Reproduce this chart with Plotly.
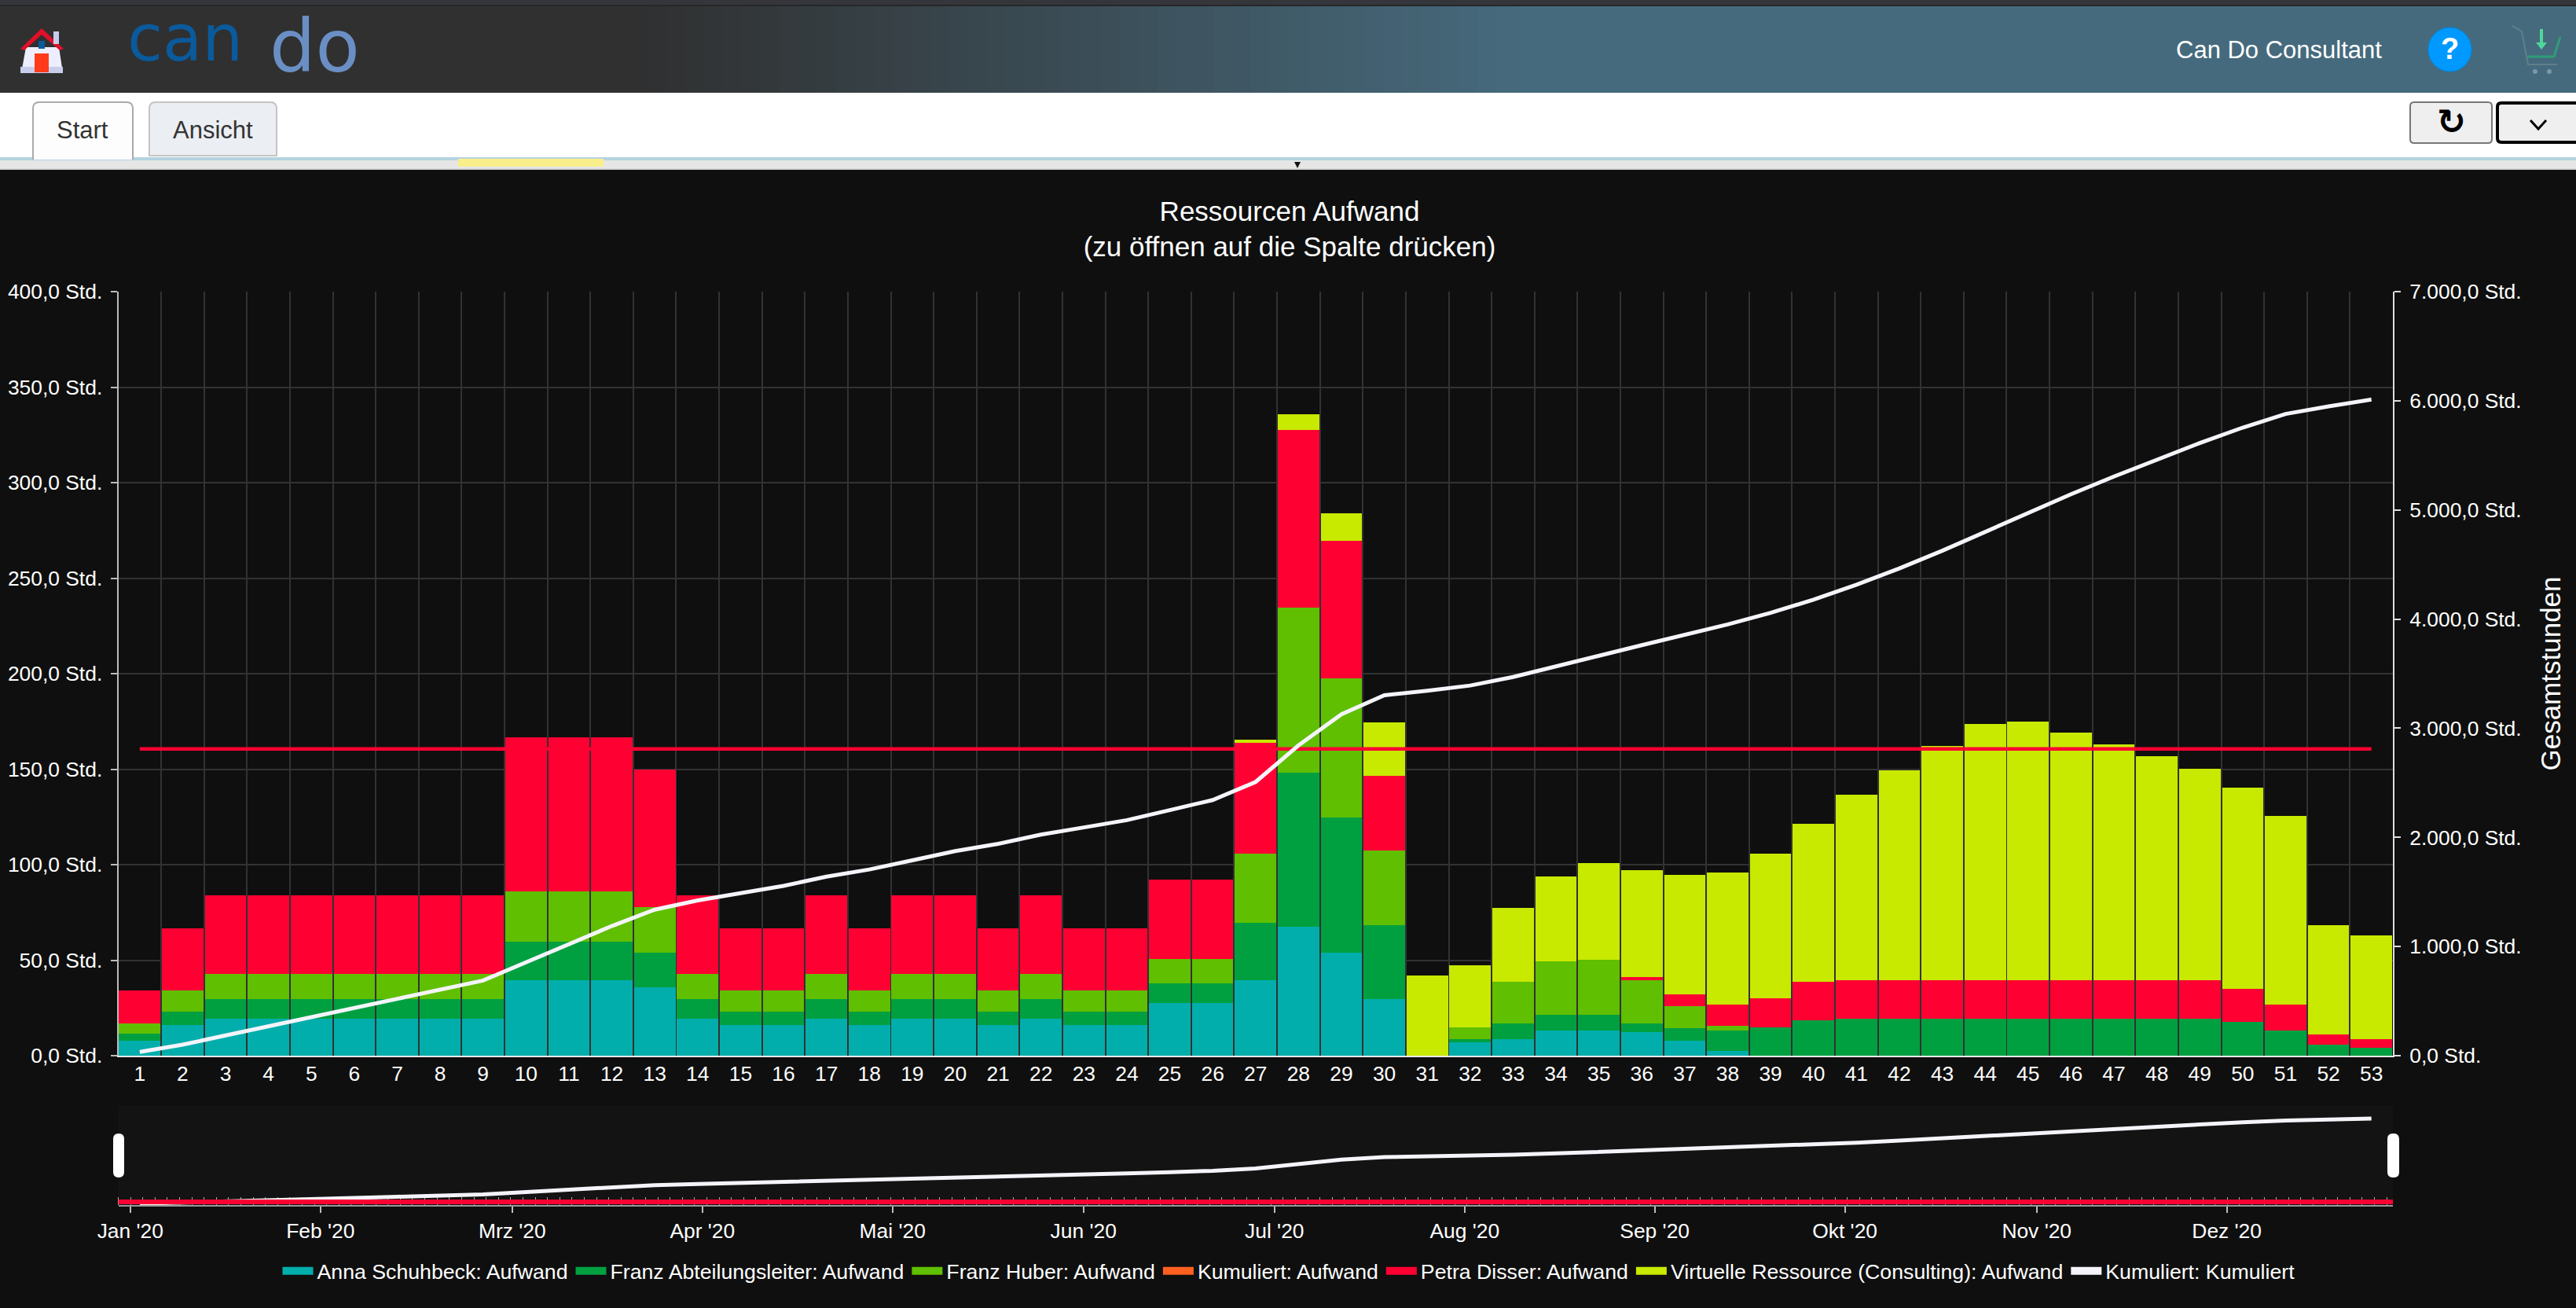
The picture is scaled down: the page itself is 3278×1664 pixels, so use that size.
import plotly.graph_objects as go

W = 3278
H = 1664

# Data
weeks = list(range(1, 54))

anna = [8, 16, 19.5, 19.5, 19.5, 19.5, 19.5, 19.5, 19.5, 39.6, 39.6, 39.6, 36, 19.5, 16, 16, 19.5, 16, 19.5, 19.5,
        16, 19.5, 16, 16, 27.6, 27.6, 39.4, 67.5, 53.8, 29.5, 0, 6.8, 8.5, 13.2, 13.2, 12.3, 7.8, 2.4,
        0, 0, 0, 0, 0, 0, 0, 0, 0, 0, 0, 0, 0, 0, 0]
abteilung = [3.4, 7, 10, 10, 10, 10, 10, 10, 10, 20, 20, 20, 18, 10, 7, 7, 10, 7, 10, 10,
             7, 10, 7, 7, 10.2, 10.2, 30, 80.8, 70.7, 39, 0, 1.7, 8.3, 8.1, 8.1, 4.5, 6.4, 10.8,
             14.9, 18.7, 19.5, 19.5, 19.5, 19.5, 19.5, 19.5, 19.5, 19.5, 19.5, 17.9, 13.2, 5.8, 4]
huber = [5.4, 11, 13.5, 13.5, 13.5, 13.5, 13.5, 13.5, 13.5, 26.4, 26.4, 26.4, 23.6, 13.5, 11, 11, 13.5, 11, 13.5, 13.5,
         11, 13.5, 11, 11, 12.7, 12.7, 36.2, 86.2, 72.9, 39, 0, 6.4, 21.7, 28.1, 29, 22.6, 11.8, 2.6,
         0, 0, 0, 0, 0, 0, 0, 0, 0, 0, 0, 0, 0, 0, 0]
petra = [17.2, 32.6, 41, 41, 41, 41, 41, 41, 41, 80.6, 80.6, 80.6, 72.4, 41, 32.6, 32.6, 41, 32.6, 41, 41,
         32.6, 41, 32.6, 32.6, 41.5, 41.5, 58.1, 92.9, 72.3, 38.9, 0, 0, 0, 0, 0, 1.9, 6, 10.9,
         15.3, 19.9, 20.1, 20.1, 20.1, 20.1, 20.1, 20.1, 20.1, 20.1, 20.1, 17, 13.4, 5.5, 4.5]
virtuell = [0, 0, 0, 0, 0, 0, 0, 0, 0, 0, 0, 0, 0, 0, 0, 0, 0, 0, 0, 0,
            0, 0, 0, 0, 0, 0, 1.9, 8.4, 14.3, 27.9, 42, 32.6, 39, 44.4, 50.7, 56, 62.7, 69,
            75.4, 82.6, 96.9, 109.7, 122.4, 134.2, 135.1, 129.6, 123.3, 117, 110.7, 105.3, 99.1, 57.1, 54.5]
kumuliert = [34, 101, 185, 269, 353, 437, 521, 605, 689, 855, 1022, 1188, 1338, 1422, 1489, 1556, 1640, 1706, 1790, 1874,
             1941, 2025, 2091, 2158, 2250, 2342, 2508, 2843, 3127, 3302, 3344, 3391, 3469, 3563, 3664, 3761, 3856, 3951,
             4057, 4178, 4315, 4464, 4626, 4800, 4974, 5144, 5306, 5463, 5613, 5754, 5879, 5948, 6011]
kapazitaet = [160.6] * 53

month_labels = ["Jan '20", "Feb '20", "Mrz '20", "Apr '20", "Mai '20", "Jun '20", "Jul '20", "Aug '20", "Sep '20",
                "Okt '20", "Nov '20", "Dez '20"]
month_pos = [0.78, 5.21, 9.68, 14.11, 18.54, 22.99, 27.44, 31.87, 36.3, 40.73, 45.2, 49.63]

colors = {
    "Anna Schuhbeck: Aufwand": "#02aeac",
    "Franz Abteilungsleiter: Aufwand": "#00a040",
    "Franz Huber: Aufwand": "#5fbf00",
    "Kumuliert: Aufwand": "#ff6020",
    "Petra Disser: Aufwand": "#ff0033",
    "Virtuelle Ressource (Consulting): Aufwand": "#c8e900",
    "Kumuliert: Kumuliert": "#f4f4fa",
}

FONT = "Liberation Sans"
BG = "#0f0f0f"
GRID = "#323232"


# pixel position on the page -> paper fraction (margins are all 0)
def px(x):
    return x / W


def py(y):
    return 1 - y / H


def rect(x0, y0, x1, y1, fill, line=None, lw=0, layer="below"):
    return dict(type="rect", xref="paper", yref="paper", x0=px(x0), x1=px(x1), y0=py(y0), y1=py(y1),
                fillcolor=fill, line=dict(color=line or fill, width=lw), layer=layer)


def path(points, fill=None, line=None, lw=0, layer="above"):
    # points: list of (cmd, x, y, ...) in page pixels
    parts = []
    for p in points:
        if p[0] == "Z":
            parts.append("Z")
            continue
        coords = []
        for i in range(1, len(p), 2):
            coords.append(f"{px(p[i]):.5f},{py(p[i + 1]):.5f}")
        parts.append(p[0] + " ".join(coords))
    return dict(type="path", xref="paper", yref="paper", path=" ".join(parts),
                fillcolor=fill or "rgba(0,0,0,0)",
                line=dict(color=line or "rgba(0,0,0,0)", width=lw), layer=layer)


def round_rect(x0, y0, x1, y1, r, fill, line=None, lw=0, bottom=True):
    pts = [("M", x0, y0 + r), ("Q", x0, y0, x0 + r, y0), ("L", x1 - r, y0), ("Q", x1, y0, x1, y0 + r)]
    if bottom:
        pts += [("L", x1, y1 - r), ("Q", x1, y1, x1 - r, y1), ("L", x0 + r, y1), ("Q", x0, y1, x0, y1 - r)]
    else:
        pts += [("L", x1, y1), ("L", x0, y1)]
    pts.append(("Z",))
    return path(pts, fill, line, lw)


def label(x, y, text, size, color="white", family=FONT, xanchor="center", weight=None):
    return dict(xref="paper", yref="paper", x=px(x), y=py(y), text=text, showarrow=False,
                xanchor=xanchor, yanchor="middle", font=dict(family=family, size=size, color=color, weight=weight))


fig = go.Figure()

# stacked bars
for name, vals in [("Anna Schuhbeck: Aufwand", anna), ("Franz Abteilungsleiter: Aufwand", abteilung),
                   ("Franz Huber: Aufwand", huber), ("Petra Disser: Aufwand", petra),
                   ("Virtuelle Ressource (Consulting): Aufwand", virtuell)]:
    fig.add_trace(go.Bar(x=weeks, y=vals, name=name, marker=dict(color=colors[name], line=dict(width=0)),
                         showlegend=False, xaxis="x", yaxis="y"))

fig.add_trace(go.Scatter(x=weeks, y=kumuliert, mode="lines", line=dict(color="#f4f4fa", width=5),
                         showlegend=False, xaxis="x", yaxis="y2"))
fig.add_trace(go.Scatter(x=weeks, y=kapazitaet, mode="lines", line=dict(color="#ff0033", width=4.5),
                         showlegend=False, xaxis="x", yaxis="y"))

# navigator below the chart
fig.add_trace(go.Scatter(x=weeks, y=kumuliert, mode="lines", line=dict(color="#f4f4fa", width=5),
                         showlegend=False, xaxis="x2", yaxis="y3"))
fig.add_trace(go.Scatter(x=[0.5] + weeks + [53.5], y=[160.6] + kapazitaet + [160.6], mode="lines",
                         line=dict(color="#ff0033", width=6), showlegend=False, xaxis="x2", yaxis="y3"))

# legend swatches
for name, col in colors.items():
    fig.add_trace(go.Scatter(x=[None], y=[None], mode="lines", name=name, line=dict(color=col, width=16),
                             xaxis="x", yaxis="y"))

x_dom = [px(150.5), px(3045)]
tick_font = dict(family=FONT, size=26.4, color="white")

fig.update_layout(
    template="none",
    width=W, height=H,
    margin=dict(l=0, r=0, t=0, b=0),
    paper_bgcolor=BG, plot_bgcolor="rgba(0,0,0,0)",
    separators=",.",
    font=dict(family=FONT, color="white"),
    barmode="stack", bargap=0.035,
    title=dict(text="Ressourcen Aufwand<br>(zu öffnen auf die Spalte drücken)", x=px(1641), y=py(280.5),
               xanchor="center", yanchor="middle", xref="paper", yref="paper",
               font=dict(family=FONT, size=35, color="white")),
    xaxis=dict(domain=x_dom, range=[0.5, 53.5], anchor="y", tickmode="array", tickvals=weeks,
               ticks="", showgrid=False, zeroline=False, tickfont=tick_font, ticklabelstandoff=-2,
               showline=True, linecolor="#e8e8e8", linewidth=2, automargin=False,
               minor=dict(tickmode="array", tickvals=[w + 0.5 for w in weeks[:-1]], showgrid=True,
                          gridcolor=GRID, gridwidth=2, ticks="")),
    yaxis=dict(domain=[py(1343), py(371)], range=[0, 400], tickmode="linear", tick0=0, dtick=50,
               tickformat=",.1f", ticksuffix=" Std.", tickfont=tick_font, ticks="outside", ticklen=8,
               tickwidth=2, tickcolor="#bbbbbb", showline=True, linecolor="#bbbbbb", linewidth=2,
               showgrid=True, gridcolor=GRID, gridwidth=2, zeroline=False, ticklabelstandoff=5, automargin=False),
    yaxis2=dict(overlaying="y", side="right", anchor="x", range=[0, 7000], tickmode="linear", tick0=0, dtick=1000,
                tickformat=",.1f", ticksuffix=" Std.", tickfont=tick_font, ticks="outside", ticklen=8,
                tickwidth=2, tickcolor="#dddddd", showline=True, linecolor="#dddddd", linewidth=2,
                showgrid=False, zeroline=False, ticklabelstandoff=6, automargin=False,
                title=dict(text="Gesamtstunden", font=dict(family=FONT, size=35, color="white"), standoff=26)),
    xaxis2=dict(domain=x_dom, range=[0.5, 53.5], anchor="y3", tickmode="array", tickvals=month_pos,
                ticktext=month_labels, ticks="outside", ticklen=8, tickwidth=2, tickcolor="#bbbbbb",
                tickfont=tick_font, showgrid=False, zeroline=False, showline=True, linecolor="#999999", linewidth=2,
                layer="below traces", ticklabelstandoff=0, automargin=False,
                minor=dict(tickmode="array", tickvals=[0.5 + i * 2 / 7 for i in range(186)], ticks="inside",
                           ticklen=10, tickwidth=1, tickcolor="#aaaaaa", showgrid=False)),
    yaxis3=dict(domain=[py(1533), py(1407)], range=[-60, 6893], visible=False, anchor="x2", automargin=False),
    legend=dict(orientation="h", x=px(1640), xanchor="center", y=py(1617), yanchor="middle", traceorder="normal",
                font=dict(family=FONT, size=26.7, color="white"), bgcolor="rgba(0,0,0,0)", itemwidth=39),
    showlegend=True,
)

# page chrome around the chart
shapes = [
    rect(0, 0, W, 8, "#34363b"),
    rect(0, 6, W, 8, "#26272a"),
    rect(0, 8, W, 118, "#303030"),
    rect(0, 118, W, 200, "#ffffff"),
    rect(0, 200, W, 204, "#b5d3e0"),
    rect(0, 204, W, 214, "#e6e6e6"),
    rect(0, 214, W, 216, "#d4d4d4"),
    rect(583, 202, 768, 212, "#f9ef8a"),
]
# header gradient, dark grey to petrol
steps = 48
for i in range(steps):
    t = i / (steps - 1)
    c = (round(48 + (70 - 48) * t), round(48 + (106 - 48) * t), round(48 + (125 - 48) * t))
    shapes.append(rect(800 + i * 24, 8, 800 + (i + 1) * 24 + 1, 118, f"rgb{c}"))
shapes.append(rect(1950, 8, W, 118, "rgb(70,106,125)"))

# navigator background
shapes.append(dict(type="rect", xref="x2 domain", yref="y3 domain", x0=0, x1=1, y0=0, y1=1,
                   fillcolor="#131313", line=dict(width=0), layer="below"))

# tabs
shapes.append(round_rect(42, 130, 169, 202, 8, "#fdfdfd", "#aaaaaa", 2, bottom=False))
shapes.append(round_rect(190, 130, 352, 198, 8, "#ebeef3", "#c4c4c4", 2, bottom=False))
shapes.append(rect(43, 199, 168, 203, "#fdfdfd", layer="above"))

# buttons
shapes.append(round_rect(3067, 130, 3171, 182, 5, "#efefef", "#777777", 2))
shapes.append(round_rect(3178, 131, 3290, 181, 5, "#efefef", "#000000", 4))
shapes.append(path([("M", 3220, 153), ("L", 3230, 164), ("L", 3240, 153)], None, "#000000", 3))

# home icon
shapes.append(path([("M", 33, 60), ("L", 75, 60), ("L", 80, 93), ("L", 27, 93), ("Z",)], "#eceeff"))
shapes.append(rect(26, 85, 80, 93, "#c9cdec", layer="above"))
shapes.append(path([("M", 26, 62), ("L", 53, 36), ("L", 81, 62), ("L", 76, 64), ("L", 53, 44), ("L", 31, 64), ("Z",)],
                   "#e0102a"))
shapes.append(rect(68, 40, 75, 56, "#c9cdec", layer="above"))
shapes.append(rect(44, 68, 62, 92, "#ff3b1a", layer="above"))
shapes.append(rect(49, 52, 57, 62, "#0a5a9c", layer="above"))

# help button
shapes.append(dict(type="circle", xref="paper", yref="paper", x0=px(3090), x1=px(3145), y0=py(91), y1=py(35),
                   fillcolor="#0099ff", line=dict(color="#0088dd", width=1), layer="above"))

# cart
shapes.append(path([("M", 3197, 33), ("L", 3209, 40), ("L", 3217, 82), ("L", 3254, 82)], None, "#5f7f8c", 2))
shapes.append(path([("M", 3216, 72), ("L", 3250, 72), ("L", 3258, 47)], None, "#2e9d78", 3))
shapes.append(path([("M", 3234, 37), ("L", 3234, 55)], None, "#4fd79a", 4))
shapes.append(path([("M", 3227, 54), ("L", 3241, 54), ("L", 3234, 63), ("Z",)], "#4fd79a"))
shapes.append(dict(type="circle", xref="paper", yref="paper", x0=px(3223), x1=px(3229), y0=py(94), y1=py(88),
                   fillcolor="#7d98a5", line=dict(width=0), layer="above"))
shapes.append(dict(type="circle", xref="paper", yref="paper", x0=px(3241), x1=px(3247), y0=py(94), y1=py(88),
                   fillcolor="#7d98a5", line=dict(width=0), layer="above"))

# navigator handles
shapes.append(round_rect(144, 1442, 158, 1498, 7, "#ffffff"))
shapes.append(round_rect(3038, 1442, 3053, 1498, 7, "#ffffff"))

# small marker on the grey strip
shapes.append(path([("M", 1647, 206), ("L", 1655, 206), ("L", 1651, 214), ("Z",)], "#111111"))

fig.update_layout(shapes=shapes)

fig.update_layout(annotations=[
    label(105, 165, "Start", 31, "#333333"),
    label(271, 165, "Ansicht", 31, "#333333"),
    label(2900, 64, "Can Do Consultant", 31),
    label(3117, 62, "?", 38, weight="bold"),
    label(3119, 155, "↻", 44, "#000000", family="DejaVu Sans", weight="bold"),
    label(235, 48, "can", 82, "#0a5a9c", family="DejaVu Sans"),
    label(400, 60, "do", 92, "#6a8fc4", family="DejaVu Sans"),
])

fig.write_html("out.html", config=dict(displayModeBar=False),
               post_script="document.body.style.margin='0';document.body.style.overflow='hidden';")
